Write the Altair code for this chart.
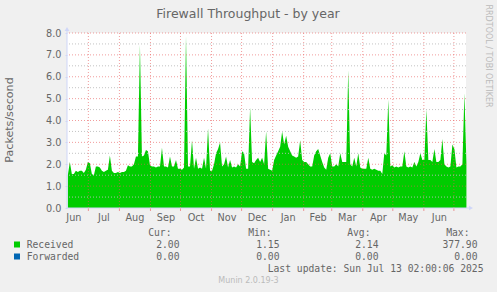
import altair as alt
import pandas as pd

# ---------------- data ----------------
TITLE = "Firewall Throughput - by year"
Y_TITLE = "Packets/second"
SIDE_TEXT = "RRDTOOL / TOBI OETIKER"
WATERMARK = "Munin 2.0.19-3"
LAST_UPDATE = "Last update: Sun Jul 13 02:00:06 2025"

SERIES = ["Received", "Forwarded"]
SERIES_COLORS = ["#00CC00", "#0066B3"]
STAT_HEADERS = ["Cur:", "Min:", "Avg:", "Max:"]
STAT_CUR = [2.00, 0.00]
STAT_MIN = [1.15, 0.00]
STAT_AVG = [2.14, 0.00]
STAT_MAX = [377.90, 0.00]

first_sample = "2024-06-10T12:00:00"
sample_every_days = 2
received = [
    1.5, 2.1, 1.55, 1.55, 1.7, 1.65, 1.7, 1.7, 1.6, 1.75,
    2.1, 2.05, 1.55, 1.5, 1.9, 1.9, 1.85, 1.7, 1.65, 1.7,
    1.75, 2.4, 1.7, 1.6, 1.6, 1.65, 1.6, 1.65, 1.65, 1.7,
    1.95, 1.9, 1.9, 2.0, 2.35, 2.35, 7.45, 2.35, 2.4, 2.65,
    2.6, 1.95, 1.9, 1.9, 1.85, 1.9, 1.9, 2.75, 1.9, 1.9,
    1.85, 2.35, 1.9, 1.9, 2.2, 1.8, 1.8, 1.75, 1.85, 7.85,
    1.9, 1.9, 3.1, 1.8, 2.3, 1.8, 1.85, 1.8, 2.3, 1.8,
    3.65, 1.7, 1.7, 2.0, 2.5, 2.7, 3.0, 1.9, 2.0, 2.35,
    1.85, 2.2, 1.85, 1.9, 1.85, 2.0, 1.9, 2.6, 2.5, 1.8,
    1.8, 4.6, 2.1, 2.05, 2.2, 2.3, 2.1, 2.3, 2.0, 3.5,
    1.8, 1.75, 1.7, 2.2, 2.4, 2.6, 2.8, 3.5, 2.9, 3.3,
    2.8, 2.6, 2.4, 2.35, 2.3, 2.35, 3.1, 2.2, 2.1, 2.1,
    2.0, 1.9, 1.9, 2.4, 2.6, 2.7, 2.4, 2.1, 1.85, 1.75,
    2.3, 2.5, 1.9, 1.9, 2.0, 1.9, 2.5, 2.1, 2.1, 2.1,
    6.3, 2.0, 1.9, 2.3, 1.9, 2.5, 1.85, 1.8, 1.8, 1.8,
    2.3, 1.8, 1.75, 1.8, 1.75, 1.7, 1.7, 1.55, 2.5, 2.4,
    4.95, 1.9, 1.95, 1.85, 1.9, 1.85, 1.9, 1.9, 2.6, 1.9,
    1.85, 1.9, 1.85, 2.1, 1.9, 2.1, 2.5, 2.2, 2.2, 4.5,
    2.2, 2.2, 2.1, 2.7, 2.1, 2.1, 2.2, 3.15, 2.0, 1.9,
    1.85, 1.9, 2.9, 2.7, 1.85, 1.9, 1.9, 2.0, 5.25, 2.05,
]
forwarded = [0.0] * len(received)

month_starts = [
    "2024-07-01", "2024-08-01", "2024-09-01", "2024-10-01", "2024-11-01",
    "2024-12-01", "2025-01-01", "2025-02-01", "2025-03-01", "2025-04-01",
    "2025-05-01", "2025-06-01", "2025-07-01",
]
month_label_dates = [
    (2024, 6, 16), (2024, 7, 16), (2024, 8, 16), (2024, 9, 16), (2024, 10, 16),
    (2024, 11, 16), (2024, 12, 16), (2025, 1, 16), (2025, 2, 15), (2025, 3, 16),
    (2025, 4, 16), (2025, 5, 16), (2025, 6, 16),
]
y_ticks = [0, 1, 2, 3, 4, 5, 6, 7, 8]
y_major_grid = [1, 2, 3, 4, 5, 6, 7, 8]
y_minor_grid = [0.5, 1.5, 2.5, 3.5, 4.5, 5.5, 6.5, 7.5]

# ---------------- style ----------------
W, H = 399, 175
FONT = "DejaVu Sans"
MONO = "DejaVu Sans Mono"
FONT_COLOR = "#666666"
LIGHT = "#BBBBBB"
AXIS_COLOR = "#CFD6F8"
MGRID = "#E85A5A"
GRID = "#BDBDBD"

dates = pd.date_range(first_sample, periods=len(received), freq=f"{sample_every_days}D")
df = pd.DataFrame({"date": dates, "Received": received, "Forwarded": forwarded})

xscale = alt.Scale(
    domain=[alt.DateTime(year=2024, month=6, date=9, hours=16),
            alt.DateTime(year=2025, month=7, date=13, hours=2)],
    nice=False,
)
yscale = alt.Scale(domain=[0, 8], nice=False, zero=True)

x_axis = alt.Axis(
    values=[alt.DateTime(year=y, month=m, date=d) for (y, m, d) in month_label_dates],
    format="%b", domain=False, ticks=False, grid=False, labelPadding=4,
    labelFont=FONT, labelFontSize=9.7, labelColor=FONT_COLOR,
    labelOverlap=False, labelFlush=False, title=None,
)
y_axis = alt.Axis(
    values=y_ticks, format=".1f", domain=False, ticks=True, tickSize=2,
    tickColor=AXIS_COLOR, grid=False, labelPadding=4, labelFont=FONT,
    labelFontSize=9.7, labelColor=FONT_COLOR, title=None,
)

area_recv = alt.Chart(df).mark_area(color=SERIES_COLORS[0], interpolate="linear").encode(
    x=alt.X("date:T", scale=xscale, axis=x_axis),
    y=alt.Y("Received:Q", scale=yscale, axis=y_axis),
)
area_fwd = alt.Chart(df).mark_area(color=SERIES_COLORS[1]).encode(
    x=alt.X("date:T", scale=xscale, axis=x_axis),
    y=alt.Y("Forwarded:Q", scale=yscale, axis=y_axis),
)

minor = alt.Chart(pd.DataFrame({"v": y_minor_grid})).mark_rule(
    color=GRID, strokeDash=[1, 2], strokeWidth=1, opacity=0.9
).encode(y=alt.Y("v:Q", scale=yscale, axis=y_axis))
major = alt.Chart(pd.DataFrame({"v": y_major_grid})).mark_rule(
    color=MGRID, strokeDash=[1, 2], strokeWidth=1, opacity=0.6
).encode(y=alt.Y("v:Q", scale=yscale, axis=y_axis))

months_df = pd.DataFrame({"d": pd.to_datetime(month_starts)})
vgrid = alt.Chart(months_df).mark_rule(
    color=MGRID, strokeDash=[1, 2], strokeWidth=1, opacity=0.6
).encode(x=alt.X("d:T", scale=xscale, axis=x_axis))
vticks = alt.Chart(months_df).mark_rule(color=MGRID, strokeWidth=1, opacity=0.6).encode(
    x=alt.X("d:T", scale=xscale, axis=x_axis), y=alt.value(H), y2=alt.value(H + 3)
)

one = pd.DataFrame({"k": [0]})
y_line = alt.Chart(one).mark_rule(color=AXIS_COLOR, strokeWidth=1).encode(
    x=alt.value(0), y=alt.value(-3), y2=alt.value(H)
)
x_line = alt.Chart(one).mark_rule(color=AXIS_COLOR, strokeWidth=1).encode(
    x=alt.value(0), x2=alt.value(W + 4), y=alt.value(H)
)
y_arrow = alt.Chart(one).mark_point(
    shape="triangle-up", filled=True, size=22, color=AXIS_COLOR, opacity=1
).encode(x=alt.value(0), y=alt.value(-4))
x_arrow = alt.Chart(one).mark_point(
    shape="triangle-right", filled=True, size=22, color=AXIS_COLOR, opacity=1
).encode(x=alt.value(W + 5), y=alt.value(H))


def label(text, x, y, align="left", baseline="middle", size=9.7,
          color=FONT_COLOR, font=MONO, angle=0):
    return alt.Chart(pd.DataFrame({"t": [text]})).mark_text(
        align=align, baseline=baseline, fontSize=size, color=color,
        font=font, angle=angle
    ).encode(x=alt.value(x), y=alt.value(y), text="t:N")


texts = [
    label(TITLE, 181, -19.5, align="center", size=12.5, font=FONT),
    label(Y_TITLE, -57, 87, align="center", size=11.1, font=FONT, angle=270),
    label(SIDE_TEXT, 421, 23, align="center", size=8, font=FONT, color=LIGHT, angle=90),
    label(WATERMARK, 181.5, 248, align="center", size=8, font=FONT, color=LIGHT),
    label(LAST_UPDATE, 416.5, 235.7, align="right"),
]

header_x = [104.5, 204.5, 303.5, 402.5]
value_x = [112.5, 212.5, 311.5, 410.5]
for hx, h in zip(header_x, STAT_HEADERS):
    texts.append(label(h, hx, 200.3, align="right"))

row_y = [211.5, 223.5]
stats = [STAT_CUR, STAT_MIN, STAT_AVG, STAT_MAX]
for i, name in enumerate(SERIES):
    sq = alt.Chart(one).mark_rect(color=SERIES_COLORS[i]).encode(
        x=alt.value(-53), x2=alt.value(-47),
        y=alt.value(row_y[i] - 3), y2=alt.value(row_y[i] + 3),
    )
    texts.append(sq)
    texts.append(label(name, -40.3, row_y[i]))
    for vx, col in zip(value_x, stats):
        texts.append(label(f"{col[i]:.2f}", vx, row_y[i], align="right"))

chart = alt.layer(
    area_recv, area_fwd, minor, major, vgrid, vticks,
    y_line, x_line, y_arrow, x_arrow, *texts
).properties(
    width=W, height=H, background="#F0F0F0",
    padding={"left": 67, "top": 33, "right": 31, "bottom": 84},
    autosize=alt.AutoSizeParams(type="none"),
).configure_view(fill="white", strokeWidth=0)

chart.save("out.html", embed_options={"renderer": "svg", "actions": False})
